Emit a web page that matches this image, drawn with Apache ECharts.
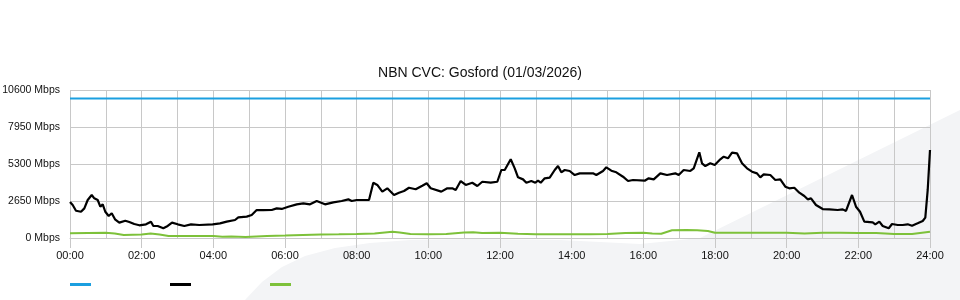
<!DOCTYPE html>
<html>
<head>
<meta charset="utf-8">
<script src="https://cdn.jsdelivr.net/npm/echarts@6/dist/echarts.min.js"></script>
<style>html,body{margin:0;padding:0;background:#fff}#c{width:960px;height:300px}</style>
</head>
<body>
<div id="c"></div>
<script>
const titleText = 'NBN CVC: Gosford (01/03/2026)';
const seriesNames = ['Capacity', 'Download', 'Upload'];
const yTicks = [0, 2650, 5300, 7950, 10600];

const capacityHours = [0, 24];
const capacityValues = [10000, 10000];

const downHours = [0,0.075,0.167,0.307,0.4,0.494,0.606,0.678,0.773,0.846,0.913,0.985,1.08,1.164,1.256,1.376,1.543,1.655,1.794,1.934,2.121,2.26,2.325,2.447,2.604,2.727,2.847,3.006,3.19,3.377,3.608,3.982,4.186,4.373,4.605,4.697,4.931,5.071,5.21,5.394,5.629,5.768,5.908,6.092,6.327,6.511,6.698,6.885,7.116,7.348,7.582,7.767,7.861,8.001,8.113,8.344,8.464,8.576,8.715,8.855,9.042,9.181,9.321,9.46,9.647,9.832,9.955,10.066,10.362,10.529,10.669,10.764,10.903,11.043,11.227,11.367,11.506,11.741,11.925,12.037,12.132,12.299,12.411,12.503,12.643,12.735,12.874,12.986,13.061,13.136,13.248,13.387,13.527,13.619,13.711,13.806,13.945,14.085,14.224,14.596,14.688,14.875,14.967,15.107,15.246,15.433,15.573,15.712,16.038,16.15,16.29,16.474,16.661,16.893,16.987,17.127,17.311,17.406,17.562,17.637,17.73,17.869,17.992,18.148,18.243,18.363,18.475,18.614,18.754,18.893,19.033,19.172,19.264,19.359,19.543,19.683,19.822,19.962,20.073,20.213,20.353,20.492,20.587,20.679,20.818,21.006,21.19,21.424,21.564,21.656,21.824,21.935,22.047,22.167,22.401,22.474,22.586,22.68,22.848,22.94,23.099,23.238,23.378,23.498,23.655,23.797,23.869,23.936,24];
const downValues = [2580,2360,1955,1880,2120,2720,3080,2840,2720,2240,2410,1880,1575,1770,1340,1100,1240,1145,1000,910,980,1170,860,860,695,860,1100,980,860,980,930,980,1050,1170,1290,1480,1530,1650,2005,2000,2005,2120,2080,2240,2410,2480,2410,2650,2410,2555,2650,2770,2650,2720,2720,2720,3960,3800,3320,3560,3080,3245,3365,3600,3490,3745,3920,3560,3320,3560,3560,3440,4080,3800,3960,3725,4030,3960,4030,4870,4870,5635,4990,4345,4200,3960,4080,3960,4105,3960,4275,4320,4870,5155,4705,4870,4800,4510,4630,4630,4510,4800,5060,4820,4705,4390,4080,4155,4105,4275,4200,4630,4510,4630,4510,4870,4800,4990,6135,5350,5155,5350,5230,5635,5825,5710,6110,6065,5350,4990,4750,4630,4345,4560,4510,4155,4200,3675,3560,3600,3245,3010,2770,2840,2365,2075,2050,2005,2050,1935,3080,2240,1880,1170,1120,980,1170,860,695,1000,930,930,980,880,1050,1215,1455,3440,6300];

const upHours = [0,0.5,1,1.25,1.5,2,2.25,2.5,2.75,3,4,4.25,4.5,4.9,5.5,6,7,7.5,8,8.5,9,9.2,9.5,10,10.5,11,11.25,11.5,12,12.5,13,13.5,14,14.5,15,15.5,16,16.25,16.5,16.8,17.2,17.5,17.8,18,19,20,20.5,21,21.5,22,22.5,23,23.5,24];
const upValues = [335,360,380,330,220,250,330,250,143,140,140,90,100,80,150,180,250,260,280,330,450,400,280,270,290,400,420,350,380,300,265,270,265,265,280,360,380,330,300,550,570,560,500,380,380,370,330,370,380,350,350,280,280,450];

function pairs(h, v) { return h.map((x, i) => [x, v[i]]); }

const chart = echarts.init(document.getElementById('c'), null, {renderer: 'canvas'});
const gridColor = '#c8c8c8';
chart.setOption({
  animation: false,
  backgroundColor: '#fff',
  textStyle: {fontFamily: '"Liberation Sans", Arial, sans-serif'},
  graphic: [{
    type: 'polygon', z: -10, silent: true,
    shape: {points: [[245,300],[262,282],[282,267],[305,256],[335,248],[370,243],[410,240],[470,239],[560,240],[640,244],[700,238],[960,110],[960,300]]},
    style: {fill: '#f3f4f6'}
  }],
  title: {
    text: titleText, left: 'center', top: 61,
    textStyle: {fontSize: 14, fontWeight: 'normal', color: '#111', fontFamily: '"Liberation Sans", Arial, sans-serif'}
  },
  legend: {
    left: 70, top: 283, padding: 0, icon: 'rect', itemWidth: 21, itemHeight: 3, itemGap: 79,
    formatter: () => '', data: seriesNames
  },
  grid: {left: 70, right: 30, top: 90, bottom: 62, containLabel: false, outerBoundsMode: 'none'},
  xAxis: {
    type: 'value', min: 0, max: 24, interval: 2,
    axisLine: {show: true, lineStyle: {color: gridColor}},
    axisTick: {show: true, length: 10, lineStyle: {color: gridColor}},
    axisLabel: {
      margin: 12, color: '#111', fontSize: 11,
      formatter: v => (v < 10 ? '0' + v : '' + v) + ':00'
    },
    splitLine: {show: true, lineStyle: {color: gridColor, width: 1}},
    minorTick: {show: false, splitNumber: 2},
    minorSplitLine: {show: true, lineStyle: {color: gridColor, width: 1}}
  },
  yAxis: {
    type: 'value', min: yTicks[0], max: yTicks[yTicks.length - 1], interval: yTicks[1] - yTicks[0],
    axisLine: {show: false}, axisTick: {show: false},
    axisLabel: {margin: 10, color: '#111', fontSize: 10.5, formatter: v => v + ' Mbps'},
    splitLine: {show: true, lineStyle: {color: gridColor, width: 1}}
  },
  series: [
    {name: seriesNames[0], type: 'line', data: pairs(capacityHours, capacityValues), showSymbol: false,
     lineStyle: {color: '#1b9fe0', width: 2}, itemStyle: {color: '#1b9fe0'}, z: 3},
    {name: seriesNames[1], type: 'line', data: pairs(downHours, downValues), showSymbol: false,
     lineStyle: {color: '#000', width: 2.2}, itemStyle: {color: '#000'}, z: 4},
    {name: seriesNames[2], type: 'line', data: pairs(upHours, upValues), showSymbol: false,
     lineStyle: {color: '#7dc13a', width: 2}, itemStyle: {color: '#7dc13a'}, z: 3}
  ]
});
</script>
</body>
</html>
